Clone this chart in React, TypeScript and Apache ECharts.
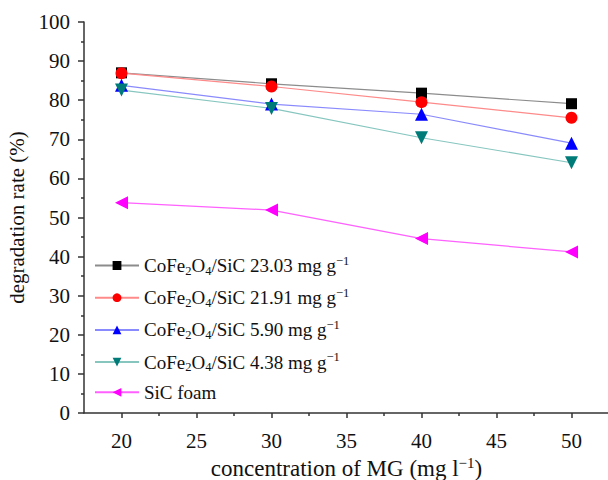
import React, { useEffect, useRef } from "react";
import * as echarts from "echarts";

const concentrations = [20, 30, 40, 50];
const s23 = [87.0, 84.2, 81.8, 79.1];
const s21 = [86.9, 83.5, 79.5, 75.5];
const s590 = [83.8, 79.0, 76.4, 69.0];
const s438 = [82.6, 77.9, 70.4, 64.0];
const sicFoam = [53.8, 51.9, 44.6, 41.2];

const seriesNames = [
  "CoFe2O4/SiC 23.03 mg g-1",
  "CoFe2O4/SiC 21.91 mg g-1",
  "CoFe2O4/SiC 5.90 mg g-1",
  "CoFe2O4/SiC 4.38 mg g-1",
  "SiC foam",
];
const legendRich: Record<string, string> = {
  "CoFe2O4/SiC 23.03 mg g-1": "CoFe{s|2}O{s|4}/SiC 23.03 mg g{p|−1}",
  "CoFe2O4/SiC 21.91 mg g-1": "CoFe{s|2}O{s|4}/SiC 21.91 mg g{p|−1}",
  "CoFe2O4/SiC 5.90 mg g-1": "CoFe{s|2}O{s|4}/SiC 5.90 mg g{p|−1}",
  "CoFe2O4/SiC 4.38 mg g-1": "CoFe{s|2}O{s|4}/SiC 4.38 mg g{p|−1}",
  "SiC foam": "SiC foam",
};
const xMajorTicks = [20, 25, 30, 35, 40, 45, 50];
const xMinorTicks = [22.5, 27.5, 32.5, 37.5, 42.5, 47.5];

const FONT = "Liberation Serif";

export default function App() {
  const ref = useRef<HTMLDivElement>(null);
  useEffect(() => {
    if (!ref.current) return;
    const chart = echarts.init(ref.current, null, { renderer: "svg" });
    const mk = (
      name: string,
      data: number[],
      symbol: string,
      rotate: number,
      color: string,
      lineColor: string,
      size: number
    ) => ({
      name,
      type: "line",
      data: concentrations.map((c, i) => [c, data[i]]),
      symbol,
      symbolRotate: rotate,
      symbolSize: size,
      itemStyle: { color },
      lineStyle: { color: lineColor, width: 1.2 },
      xAxisIndex: 0,
      yAxisIndex: 0,
    });
    const axisLineStyle = { color: "#333", width: 1.5 };
    chart.setOption({
      animation: false,
      backgroundColor: "#fff",
      textStyle: { fontFamily: FONT },
      grid: { left: 84, top: 22, width: 525, height: 391, outerBoundsMode: "none", containLabel: false },
      legend: {
        orient: "vertical",
        left: 89,
        top: 249,
        itemGap: 9.2,
        itemWidth: 44,
        itemHeight: 11,
        data: seriesNames,
        formatter: (n: string) => legendRich[n] || n,
        textStyle: {
          fontFamily: FONT,
          fontSize: 19,
          color: "#111",
          rich: {
            s: { fontFamily: FONT, fontSize: 12.5, padding: [10, 0, 0, 0] },
            p: { fontFamily: FONT, fontSize: 12.5, padding: [0, 0, 10, 0] },
          },
        },
      },
      xAxis: [
        {
          type: "value",
          min: 17.5,
          max: 52.5,
          position: "bottom",
          name: "concentration of MG (mg l{p|−1})",
          nameLocation: "middle",
          nameGap: 39,
          nameTextStyle: {
            fontFamily: FONT,
            fontSize: 23,
            color: "#111",
            rich: {
              p: { fontFamily: FONT, fontSize: 15, padding: [0, 0, 11, 0] },
            },
          },
          axisLine: { show: true, lineStyle: axisLineStyle },
          axisTick: {
            show: true,
            length: 5,
            customValues: xMajorTicks,
            lineStyle: axisLineStyle,
          },
          axisLabel: {
            customValues: xMajorTicks,
            fontFamily: FONT,
            fontSize: 21,
            color: "#111",
            margin: 17,
          },
          splitLine: { show: false },
        },
        {
          type: "value",
          min: 17.5,
          max: 52.5,
          position: "bottom",
          axisLine: { show: false },
          axisTick: {
            show: true,
            length: 3,
            customValues: xMinorTicks,
            lineStyle: axisLineStyle,
          },
          axisLabel: { show: false },
          splitLine: { show: false },
        },
      ],
      yAxis: {
        type: "value",
        min: 0,
        max: 100,
        interval: 10,
        name: "degradation rate (%)",
        nameLocation: "middle",
        nameGap: 52,
        nameTextStyle: { fontFamily: FONT, fontSize: 21, color: "#111" },
        axisLine: { show: true, lineStyle: axisLineStyle },
        axisTick: { show: true, length: 6, lineStyle: axisLineStyle },
        minorTick: { show: true, splitNumber: 2, length: 3, lineStyle: axisLineStyle },
        axisLabel: { fontFamily: FONT, fontSize: 21, color: "#111", margin: 14 },
        splitLine: { show: false },
      },
      series: [
        mk(seriesNames[0], s23, "rect", 0, "#000000", "#8c8c8c", 11),
        mk(seriesNames[1], s21, "circle", 0, "#ff0000", "#ff8a8a", 12),
        mk(seriesNames[2], s590, "triangle", 0, "#0000ff", "#8a8aff", 13),
        mk(seriesNames[3], s438, "triangle", 180, "#007b78", "#86c6bf", 13),
        mk(seriesNames[4], sicFoam, "triangle", 90, "#ff00ff", "#ff60ff", 13),
      ],
    });
    return () => chart.dispose();
  }, []);
  return (
    <div
      ref={ref}
      style={{ position: "fixed", left: 0, top: 0, width: 608, height: 480 }}
    />
  );
}
